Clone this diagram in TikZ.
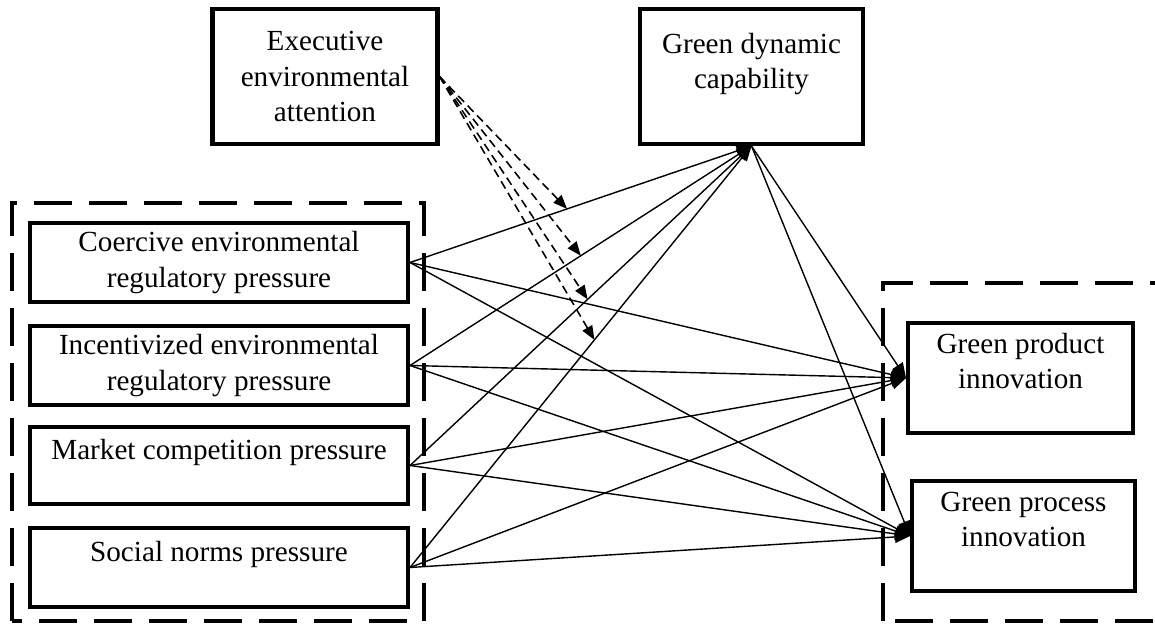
\documentclass[tikz,border=0pt]{standalone}
\usepackage{fontspec}
\setmainfont{Liberation Serif}
\usetikzlibrary{arrows.meta}

\begin{document}
\begin{tikzpicture}

          \tikzstyle{boxNode} = [draw, line width=2.3pt, align=center, inner sep=0pt, font=\fontsize{16.6}{20}\selectfont];
          \tikzstyle{groupBox} = [line width=2.3pt, dash pattern=on 0.76cm off 0.34cm];
          \tikzstyle{pathEdge} = [line width=0.8pt, -{Triangle[length=0.3cm, width=0.24cm]}];
          \tikzstyle{modEdge} = [line width=0.9pt, dash pattern=on 0.17cm off 0.1cm, -{Triangle[length=0.28cm, width=0.22cm]}];

          \useasboundingbox (0,0) rectangle (23.1,12.48);

          \draw[groupBox] (0.24,0.06) rectangle (8.48,8.42);
          \draw[groupBox] (17.66,0.06) rectangle (23.5,6.82);

          \node[boxNode, minimum width=4.5cm, minimum height=2.7cm] (exec) at (6.5,10.95) {Executive\\environmental\\attention};
          \node[boxNode, minimum width=4.46cm, minimum height=2.7cm] (gdc) at (15.03,10.95) {Green dynamic\\capability\\[-8pt]\strut};
          \node[boxNode, minimum width=7.56cm, minimum height=1.58cm] (coe) at (4.38,7.23) {Coercive environmental\\regulatory pressure};
          \node[boxNode, minimum width=7.56cm, minimum height=1.58cm] (inc) at (4.38,5.17) {Incentivized environmental\\regulatory pressure};
          \node[boxNode, minimum width=7.56cm, minimum height=1.54cm] (mkt) at (4.38,3.17) {Market competition pressure\\[-8pt]\strut};
          \node[boxNode, minimum width=7.56cm, minimum height=1.58cm] (soc) at (4.38,1.13) {Social norms pressure\\[-8pt]\strut};
          \node[boxNode, minimum width=4.5cm, minimum height=2.2cm] (prod) at (20.41,4.92) {Green product\\innovation\\[-7pt]\strut};
          \node[boxNode, minimum width=4.46cm, minimum height=2.2cm] (proc) at (20.47,1.76) {Green process\\innovation\\[-7pt]\strut};

          \draw[pathEdge] (coe.east) -- (gdc.south) coordinate[pos=0.46] (m1);
          \draw[pathEdge] (inc.east) -- (gdc.south) coordinate[pos=0.5] (m2);
          \draw[pathEdge] (mkt.east) -- (gdc.south) coordinate[pos=0.52] (m3);
          \draw[pathEdge] (soc.east) -- (gdc.south) coordinate[pos=0.54] (m4);
          \draw[pathEdge] (coe.east) -- (prod.west);
          \draw[pathEdge] (inc.east) -- (prod.west);
          \draw[pathEdge] (mkt.east) -- (prod.west);
          \draw[pathEdge] (soc.east) -- (prod.west);
          \draw[pathEdge] (coe.east) -- (proc.west);
          \draw[pathEdge] (inc.east) -- (proc.west);
          \draw[pathEdge] (mkt.east) -- (proc.west);
          \draw[pathEdge] (soc.east) -- (proc.west);
          \draw[pathEdge] (gdc.south) -- (prod.west);
          \draw[pathEdge] (gdc.south) -- (proc.west);

          \draw[modEdge] (exec.east) -- (m1);
          \draw[modEdge] (exec.east) -- (m2);
          \draw[modEdge] (exec.east) -- (m3);
          \draw[modEdge] (exec.east) -- (m4);
        \end{tikzpicture}
\end{document}
